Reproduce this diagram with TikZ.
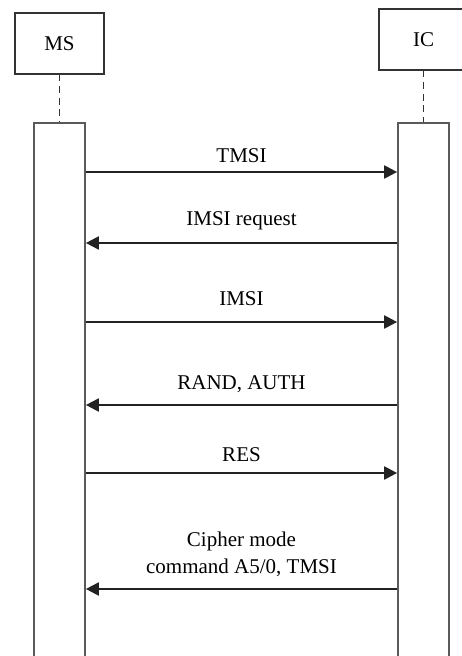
\documentclass[tikz,border=0pt]{standalone}
\usepackage{fontspec}
\setmainfont{Liberation Serif}
\usetikzlibrary{arrows.meta,positioning,calc}
\definecolor{ink}{HTML}{222222}
\definecolor{boxline}{HTML}{333333}
\definecolor{barline}{HTML}{5A5A5A}
\tikzset{
  entity/.style={
    draw=boxline, line width=0.65pt, rectangle,
    minimum width=44.5pt, minimum height=30.5pt, inner sep=0pt,
    font=\fontsize{10.5}{13.5}\selectfont
  },
  lifebar/.style={
    draw=barline, line width=0.8pt, rectangle, anchor=north,
    minimum width=25.5pt, minimum height=274pt, inner sep=0pt
  },
  lifeline/.style={draw=boxline, line width=0.65pt, dash pattern=on 3.4pt off 2.4pt},
  msg/.style={draw=ink, line width=1.25pt, -{Triangle[length=6.5pt,width=6.4pt]}},
  msglabel/.style={
    anchor=south, inner sep=0pt, text depth=0pt, align=center,
    font=\fontsize{10.5}{13.5}\selectfont
  }
}

\begin{document}
\begin{tikzpicture}[x=0.5pt,y=-0.5pt]
  \useasboundingbox (0,0) rectangle (461,656);
  \node[entity] (ms) at (59.5,43.5) {MS};
  \node[entity] (ic) at (423.5,39.5) {IC};
  \node[lifebar] (msbar) at (59.5,122) {};
  \node[lifebar] (icbar) at (423.5,122) {};
  \draw[lifeline] (ms.south) -- (msbar.north);
  \draw[lifeline] (ic.south) -- (icbar.north);
  % MS -> IC
  \foreach \dy/\gap/\txt in {50/4/TMSI, 200/7.8/IMSI, 351/5/RES}
    \draw[msg] ($(msbar.north east)+(0,\dy)$) -- node[msglabel,yshift=\gap pt] {\txt} ($(icbar.north west)+(0,\dy)$);
  % IC -> MS
  \foreach \dy/\gap/\txt in {121/8.3/IMSI request, 283/7/{RAND, AUTH}, 467/7/{Cipher mode\\command A5/0, TMSI}}
    \draw[msg] ($(icbar.north west)+(0,\dy)$) -- node[msglabel,yshift=\gap pt] {\txt} ($(msbar.north east)+(0,\dy)$);
\end{tikzpicture}
\end{document}
